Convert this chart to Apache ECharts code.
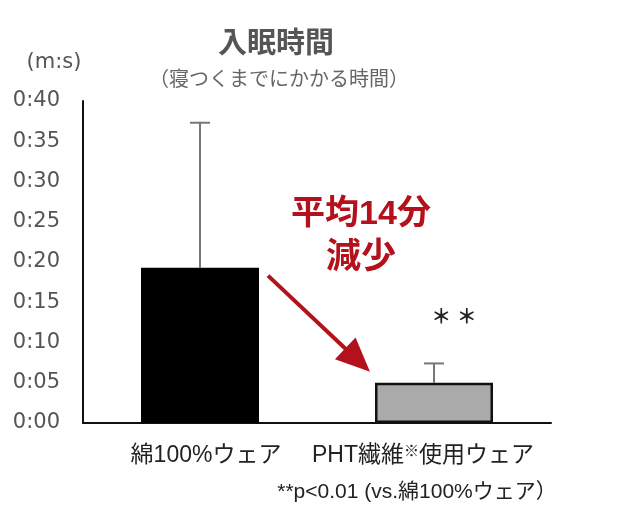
<!DOCTYPE html>
<html>
<head>
<meta charset="utf-8">
<script src="https://cdn.jsdelivr.net/npm/echarts@6/dist/echarts.min.js"></script>
<style>
html,body{margin:0;padding:0;background:#fff;}
#c{width:632px;height:522px;}
</style>
</head>
<body>
<div id="c"></div>
<script>
const categories = ['綿100%ウェア', 'PHT繊維※使用ウェア'];
const meanMinutes = [19.3, 5.0];
const sdMinutes = [18.0, 2.4];
const yTicks = ['0:00','0:05','0:10','0:15','0:20','0:25','0:30','0:35','0:40'];
const barColors = ['#000000', '#aaaaaa'];
const titleText = '入眠時間';
const subtitleText = '（寝つくまでにかかる時間）';
const unitText = '(m:s)';
const noteText = '**p<0.01 (vs.綿100%ウェア）';
const arrowText = ['平均14分', '減少'];
const sigText = '＊ ＊';

const FONT = '"Liberation Sans", "Noto Sans CJK JP", sans-serif';
const NUMFONT = '"DejaVu Sans", "Noto Sans CJK JP", sans-serif';
const chart = echarts.init(document.getElementById('c'));

const option = {
  backgroundColor: '#fff',
  animation: false,
  title: [
    { text: titleText, left: 271, top: 25, textAlign: 'center',
      textStyle: { fontSize: 29, fontWeight: 'bold', color: '#555', fontFamily: FONT } },
    { text: subtitleText, left: 274, top: 65, textAlign: 'center',
      textStyle: { fontSize: 20, fontWeight: 'normal', color: '#666', fontFamily: FONT } },
    { text: unitText, left: 49, top: 47, textAlign: 'center',
      textStyle: { fontSize: 21, fontWeight: 'normal', color: '#555', fontFamily: NUMFONT } }
  ],
  grid: { left: 83, right: 81, top: 101, bottom: 99, containLabel: false },
  xAxis: {
    type: 'category',
    data: categories,
    axisLine: { lineStyle: { color: '#111', width: 2 } },
    axisTick: { show: false },
    axisLabel: {
      interval: 0,
      margin: 21,
      fontSize: 23,
      color: '#222',
      fontFamily: FONT,
      formatter: function (v) {
        if (v.indexOf('※') >= 0) {
          const p = v.split('※');
          return '{b|' + p[0] + '}{s|※}{c|' + p[1] + '}';
        }
        return '{a|' + v + '}';
      },
      rich: {
        a: { fontSize: 23, color: '#222', fontFamily: FONT, padding: [0, 0, 0, 12] },
        b: { fontSize: 23, color: '#222', fontFamily: FONT },
        c: { fontSize: 23, color: '#222', fontFamily: FONT, padding: [0, 22, 0, 0] },
        s: { fontSize: 15, color: '#222', fontFamily: FONT, verticalAlign: 'top', padding: [0, 0, 8, 0] }
      }
    }
  },
  yAxis: {
    type: 'value',
    min: 0, max: 40, interval: 5,
    axisLine: { show: true, lineStyle: { color: '#111', width: 2 } },
    axisTick: { show: false },
    splitLine: { show: false },
    axisLabel: {
      margin: 23,
      fontSize: 21,
      color: '#555',
      fontFamily: NUMFONT,
      formatter: function (v) { return yTicks[Math.round(v / 5)]; }
    }
  },
  series: [
    {
      type: 'custom',
      z: 1,
      data: categories.map((c, i) => [i, meanMinutes[i], meanMinutes[i] + sdMinutes[i]]),
      renderItem: function (params, api) {
        const x = api.value(0);
        const lo = api.coord([x, api.value(1)]);
        const hi = api.coord([x, api.value(2)]);
        const half = 10;
        const style = { stroke: '#777', lineWidth: 2, fill: null };
        return {
          type: 'group',
          children: [
            { type: 'line', shape: { x1: lo[0], y1: lo[1], x2: hi[0], y2: hi[1] }, style: style },
            { type: 'line', shape: { x1: hi[0] - half, y1: hi[1], x2: hi[0] + half, y2: hi[1] }, style: style }
          ]
        };
      }
    },
    {
      type: 'bar',
      z: 3,
      barWidth: 118,
      data: meanMinutes.map((v, i) => ({
        value: v,
        itemStyle: { color: barColors[i], borderColor: '#111', borderWidth: i === 1 ? 2.5 : 0 }
      }))
    }
  ]
};
chart.setOption(option);

// annotations positioned from data coordinates
const p0 = chart.convertToPixel({ xAxisIndex: 0, yAxisIndex: 0 }, [0, meanMinutes[0]]);
const p1 = chart.convertToPixel({ xAxisIndex: 0, yAxisIndex: 0 }, [1, meanMinutes[1]]);
const sx = p0[0] + 68, sy = p0[1] + 8;
const tx = p1[0] - 64, ty = p1[1] - 11;
const ang = Math.atan2(ty - sy, tx - sx);
const headLen = 34, headHalf = 15;
const bx = tx - headLen * Math.cos(ang), by = ty - headLen * Math.sin(ang);
const nx = -Math.sin(ang), ny = Math.cos(ang);
const red = '#b3121d';

chart.setOption({
  graphic: [
    { type: 'line', z: 10, shape: { x1: sx, y1: sy, x2: bx + 4 * Math.cos(ang), y2: by + 4 * Math.sin(ang) },
      style: { stroke: red, lineWidth: 4 } },
    { type: 'polygon', z: 10, shape: { points: [[tx, ty], [bx + nx * headHalf, by + ny * headHalf], [bx - nx * headHalf, by - ny * headHalf]] },
      style: { fill: red } },
    { type: 'text', z: 10, x: 361, y: 215,
      style: { text: arrowText[0], fill: red, font: 'bold 34px ' + FONT, textAlign: 'center', textVerticalAlign: 'middle' } },
    { type: 'text', z: 10, x: 361, y: 258,
      style: { text: arrowText[1], fill: red, font: 'bold 35px ' + FONT, textAlign: 'center', textVerticalAlign: 'middle' } },
    { type: 'text', z: 10, x: 454, y: 318,
      style: { text: sigText, fill: '#222', font: 'bold 20px ' + FONT, textAlign: 'center', textVerticalAlign: 'middle' } },
    { type: 'text', z: 10, x: 417, y: 492,
      style: { text: noteText, fill: '#222', font: '21px ' + FONT, textAlign: 'center', textVerticalAlign: 'middle' } }
  ]
});
</script>
</body>
</html>
